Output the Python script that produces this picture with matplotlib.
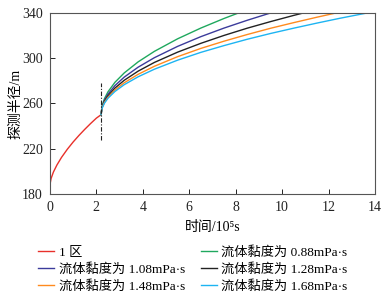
import matplotlib.pyplot as plt

plt.rcParams['font.family'] = ['Liberation Serif', 'Noto Sans CJK SC']

# --- DATA ---
# zone 1
t_zone1 = [0, 0.05, 0.15, 0.3, 0.5, 0.75, 1.0, 1.25, 1.5, 1.75, 2.0, 2.2]
r_zone1 = [188, 193.6, 199.3, 205.5, 212.3, 219.5, 225.9, 231.7, 237.1, 242.2, 247.0, 250]

t_088 = [2.2, 2.25, 2.35, 2.5, 2.8, 3.2, 3.8, 4.5, 5.5, 6.5, 7.5, 8.1, 8.5]
r_088 = [250, 258.3, 264.3, 270.3, 278.7, 287.0, 296.8, 306.1, 317.2, 326.7, 335.2, 339.9, 342.9]

t_108 = [2.2, 2.25, 2.35, 2.5, 2.8, 3.2, 3.8, 4.5, 5.5, 6.5, 7.5, 8.5, 9.4, 10]
r_108 = [250, 257.4, 262.9, 268.2, 275.8, 283.3, 292.1, 300.5, 310.5, 319.1, 326.7, 333.6, 339.4, 343.0]

t_128 = [2.2, 2.25, 2.35, 2.5, 2.8, 3.2, 3.8, 4.5, 5.5, 6.5, 7.5, 8.5, 9.5, 10.5, 11]
r_128 = [250, 256.8, 261.8, 266.7, 273.6, 280.5, 288.6, 296.3, 305.4, 313.2, 320.2, 326.6, 332.4, 337.9, 340.5]

t_148 = [2.2, 2.25, 2.35, 2.5, 2.8, 3.2, 3.8, 4.5, 5.5, 6.5, 7.5, 8.5, 9.5, 10.5, 11.5, 12.2, 12.5]
r_148 = [250, 256.3, 261.0, 265.5, 271.9, 278.3, 285.8, 292.9, 301.4, 308.7, 315.1, 321.0, 326.5, 331.5, 336.3, 339.5, 341.0]

t_168 = [2.2, 2.25, 2.35, 2.5, 2.8, 3.2, 3.8, 4.5, 5.5, 6.5, 7.5, 8.5, 9.5, 10.5, 11.5, 12.5, 13.5, 13.7]
r_168 = [250, 255.9, 260.3, 264.6, 270.6, 276.6, 283.6, 290.3, 298.3, 305.2, 311.2, 316.8, 321.9, 326.6, 331.1, 335.4, 339.4, 340.2]

t_boundary = 2.2
boundary_span = [228, 278]

labels = ['1 区',
          '流体黏度为 0.88mPa·s', '流体黏度为 1.08mPa·s', '流体黏度为 1.28mPa·s',
          '流体黏度为 1.48mPa·s', '流体黏度为 1.68mPa·s']
colors = ['#e8302a', '#1fa85e', '#3b3b9b', '#222222', '#ff8a1e', '#1db4f2']

fig = plt.figure(figsize=(3.87, 2.96), dpi=100)
ax = fig.add_axes([0.129, 0.345, 0.840, 0.611])

series = [(t_zone1, r_zone1), (t_088, r_088), (t_108, r_108),
          (t_128, r_128), (t_148, r_148), (t_168, r_168)]
handles = []
for (t, r), c, lab in zip(series, colors, labels):
    h, = ax.plot(t, r, color=c, lw=1.0, label=lab)
    handles.append(h)

ax.plot([t_boundary, t_boundary], boundary_span, color='#222222', lw=0.8,
        linestyle=(0, (4, 1.5, 1, 1.5)))

ax.set_xlim(0, 14)
ax.set_ylim(180, 340)
ax.set_xticks(range(0, 15, 2))
ax.set_yticks(range(180, 341, 40))
ax.tick_params(direction='in', length=3.5, width=0.7, labelsize=10, colors='#222222',
               top=False, right=False, pad=5)
for s in ax.spines.values():
    s.set_linewidth(0.8)
    s.set_color('#555555')

ax.set_xlabel('时间/10⁵s', fontsize=10, labelpad=5)
ax.set_ylabel('探测半径/m', fontsize=10, labelpad=0)

# legend in row order: fill columns so rows read left-to-right
order = [0, 2, 4, 1, 3, 5]
fig.legend([handles[i] for i in order], [labels[i] for i in order],
           loc='upper left', bbox_to_anchor=(0.085, 0.186), ncol=2, frameon=False,
           fontsize=9.5, handlelength=1.2, handletextpad=0.35, columnspacing=1.2,
           labelspacing=0.3, borderaxespad=0)

fig.savefig('out.png', dpi=100)
